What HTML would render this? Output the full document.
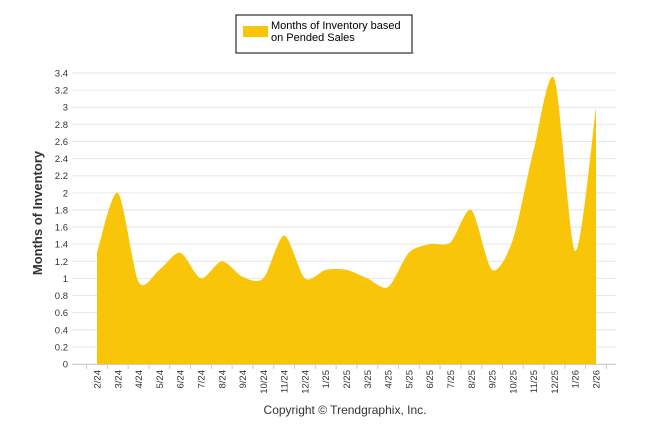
<!DOCTYPE html>
<html><head><meta charset="utf-8"><style>
body{margin:0;background:#fff;font-family:"Liberation Sans",sans-serif}
svg text{font-family:"Liberation Sans",sans-serif}
</style></head><body>
<svg id="chart" width="646" height="434">
<g>
<rect x="236" y="15" width="176" height="38" fill="#fff" stroke="#000" stroke-width="1"/>
<rect x="238" y="52" width="176" height="2" fill="#888" opacity="0.5"/>
<rect x="243" y="26" width="25" height="11" fill="#F8C508"/>
<text x="271" y="29" font-size="11" fill="#000">Months of Inventory based</text>
<text x="271" y="41" font-size="11" fill="#000">on Pended Sales</text>
</g>
<g id="grid"></g>
<path id="area" fill="#F8C508"/>
<g id="axes"></g>
<text transform="translate(42,213) rotate(-90)" text-anchor="middle" font-size="13" font-weight="bold" fill="#333">Months of Inventory</text>
<text x="345" y="414" text-anchor="middle" font-size="12" fill="#333">Copyright © Trendgraphix, Inc.</text>
</svg>
<script>
const categories=["2/24","3/24","4/24","5/24","6/24","7/24","8/24","9/24","10/24","11/24","12/24","1/25","2/25","3/25","4/25","5/25","6/25","7/25","8/25","9/25","10/25","11/25","12/25","1/26","2/26"];
const values=[1.3,2.0,0.96,1.1,1.3,1.0,1.2,1.02,1.0,1.5,1.0,1.1,1.1,1.0,0.9,1.3,1.4,1.42,1.8,1.1,1.45,2.5,3.33,1.32,3.0];
const yTicks=[0,0.2,0.4,0.6,0.8,1,1.2,1.4,1.6,1.8,2,2.2,2.4,2.6,2.8,3,3.2,3.4];
const ns="http://www.w3.org/2000/svg";
const XF=97,XL=596,X1=616,Y0=364,Y1=73,YMAX=3.4;
const step=(XL-XF)/(categories.length-1);
const x=i=>XF+step*i;
const y=v=>Y0-(v/YMAX)*(Y0-Y1);
function mk(tag,attrs,parent){const e=document.createElementNS(ns,tag);for(const k in attrs)e.setAttribute(k,attrs[k]);parent.appendChild(e);return e;}
const grid=document.getElementById('grid'),axes=document.getElementById('axes');
yTicks.forEach(t=>{
  const l=mk('line',{x1:72,x2:X1,y1:y(t),y2:y(t),stroke:'#e6e6e6'},grid);
  
  
  const tx=mk('text',{x:68,y:y(t)+3.5,'text-anchor':'end','font-size':'9.5',fill:'#333'},axes);
  
  
  tx.textContent=String(t);
});
mk('line',{x1:72,x2:X1,y1:Y0+0.5,y2:Y0+0.5,stroke:'#ccc'},axes);
for(let i=0;i<=categories.length;i++){const tx0=XF-step/2+step*i;mk('line',{x1:tx0,x2:tx0,y1:Y0,y2:Y0+5,stroke:'#ccc'},axes);}
categories.forEach((c,i)=>{
  const tx=mk('text',{transform:`translate(${x(i)+3.5},370) rotate(-90)`,'text-anchor':'end','font-size':'9.5',fill:'#333'},axes);
  
  
  tx.textContent=c;
});
const pts=values.map((v,i)=>[x(i),y(v)]);
let d=`M${pts[0][0]},${Y0}L${pts[0][0]},${pts[0][1]}`;
const s=0.28;
for(let i=0;i<pts.length-1;i++){
  const p0=pts[Math.max(i-1,0)],p1=pts[i],p2=pts[i+1],p3=pts[Math.min(i+2,pts.length-1)];
  const c1=[p1[0]+(p2[0]-p0[0])*s*0.5,p1[1]+(p2[1]-p0[1])*s*0.5];
  const c2=[p2[0]-(p3[0]-p1[0])*s*0.5,p2[1]-(p3[1]-p1[1])*s*0.5];
  d+=`C${c1[0]},${c1[1]} ${c2[0]},${c2[1]} ${p2[0]},${p2[1]}`;
}
d+=`L${pts[pts.length-1][0]},${Y0}Z`;
document.getElementById('area').setAttribute('d',d);
</script>
</body></html>
